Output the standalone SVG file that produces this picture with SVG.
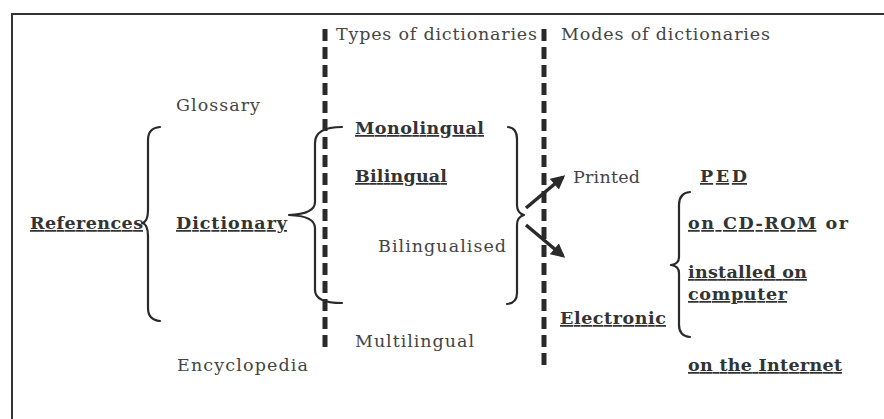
<svg xmlns="http://www.w3.org/2000/svg" width="884" height="419" viewBox="0 0 884 419">
<defs>
<style>
.t{font-family:"DejaVu Serif","Liberation Serif",serif;font-size:17.5px;fill:#444;}
.b{font-family:"DejaVu Serif","Liberation Serif",serif;font-size:17.5px;font-weight:bold;fill:#333;}
.u{text-decoration:underline;}
.brace{fill:none;stroke:#2a2a2a;stroke-width:2.2;stroke-linecap:round;stroke-linejoin:round;}
.dash{stroke:#2a2a2a;stroke-width:5;stroke-dasharray:12 6;}
.arrow{stroke:#2a2a2a;stroke-width:3.5;}
</style>
<marker id="ah" viewBox="0 0 10 10" refX="8" refY="5" markerWidth="14" markerHeight="14" markerUnits="userSpaceOnUse" orient="auto">
<path d="M0,0 L10,5 L0,10 z" fill="#2a2a2a"/>
</marker>
</defs>
<rect width="884" height="419" fill="#ffffff"/>
<g id="frame" fill="none" stroke="#333" stroke-width="2">
<path d="M12,419 L12,14 L884,14"/>
</g>
<g id="dividers">
<line class="dash" x1="325" y1="29" x2="325" y2="353"/>
<line class="dash" x1="544" y1="29" x2="544" y2="369"/>
</g>
<g id="headers">
<text class="t" x="336" y="40" textLength="201" lengthAdjust="spacing">Types of dictionaries</text>
<text class="t" x="561" y="40" textLength="209" lengthAdjust="spacing">Modes of dictionaries</text>
</g>
<g id="n-references"><text class="b u" x="30" y="229" textLength="113" lengthAdjust="spacing">References</text></g>
<g id="n-glossary"><text class="t" x="176" y="111" textLength="84" lengthAdjust="spacing">Glossary</text></g>
<g id="n-dictionary"><text class="b u" x="176" y="229" textLength="111" lengthAdjust="spacing">Dictionary</text></g>
<g id="n-encyclopedia"><text class="t" x="177" y="371" textLength="131" lengthAdjust="spacing">Encyclopedia</text></g>
<g id="n-monolingual"><text class="b u" x="355" y="134" textLength="129" lengthAdjust="spacing">Monolingual</text></g>
<g id="n-bilingual"><text class="b u" x="355" y="182" textLength="92" lengthAdjust="spacing">Bilingual</text></g>
<g id="n-bilingualised"><text class="t" x="378" y="252" textLength="128" lengthAdjust="spacing">Bilingualised</text></g>
<g id="n-multilingual"><text class="t" x="355" y="347" textLength="119" lengthAdjust="spacing">Multilingual</text></g>
<g id="n-printed"><text class="t" x="573" y="183" textLength="67" lengthAdjust="spacing">Printed</text></g>
<g id="n-ped"><text class="b u" x="700" y="182" textLength="47" lengthAdjust="spacing">PED</text></g>
<g id="n-electronic"><text class="b u" x="560" y="324" textLength="106" lengthAdjust="spacing">Electronic</text></g>
<g id="n-cdrom"><text class="b" x="688" y="229" textLength="160" lengthAdjust="spacing"><tspan class="u">on CD-ROM</tspan> or</text></g>
<g id="n-installed"><text class="b u" x="688" y="278" textLength="119" lengthAdjust="spacing">installed on</text><text class="b u" x="688" y="300" textLength="99" lengthAdjust="spacing">computer</text></g>
<g id="n-internet"><text class="b u" x="688" y="371" textLength="154" lengthAdjust="spacing">on the Internet</text></g>
<g id="connectors">
<path class="brace" d="M160,127 Q148,128 148,140 L148,210 Q148,222 142,223 Q148,224 148,236 L148,308 Q148,320 160,321"/>
<path class="brace" d="M342,127 Q315,127 315,143 L315,202 Q315,214 289,215 Q315,216 315,228 L315,290 Q315,303 342,303"/>
<path class="brace" d="M508,127 Q517,128 517,139 L517,205 Q517,213 524,215 Q517,217 517,225 L517,293 Q517,303 507,304"/>
<path class="brace" d="M690,192 Q679,193 679,205 L679,257 Q679,264 671,265 Q679,266 679,273 L679,325 Q679,336 690,337"/>
<line class="arrow" x1="526" y1="208" x2="563" y2="177" marker-end="url(#ah)"/>
<line class="arrow" x1="526" y1="225" x2="563" y2="256" marker-end="url(#ah)"/>
</g>
</svg>
